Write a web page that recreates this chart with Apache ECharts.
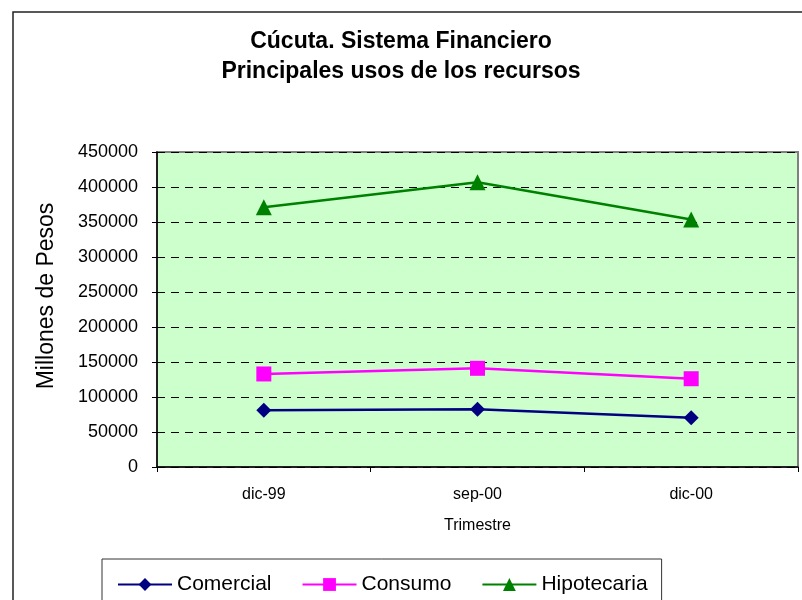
<!DOCTYPE html>
<html>
<head>
<meta charset="utf-8">
<script src="https://cdn.jsdelivr.net/npm/echarts@6/dist/echarts.min.js"></script>
<style>
  html, body { margin: 0; padding: 0; background: #fff; }
  #chart { width: 802px; height: 600px; }
</style>
</head>
<body>
<div id="chart"></div>
<script>
  // datos
  var trimestres = ['dic-99', 'sep-00', 'dic-00'];
  var comercial = [81000, 82400, 70400];
  var consumo = [132900, 141000, 126100];
  var hipotecaria = [371000, 406700, 353500];

  var chart = echarts.init(document.getElementById('chart'));
  var fuente = 'Liberation Sans, Arial, sans-serif';

  var option = {
    animation: false,
    textStyle: { fontFamily: fuente },
    title: {
      text: 'Cúcuta. Sistema Financiero\nPrincipales usos de los recursos',
      left: 'center',
      top: 22,
      textStyle: {
        fontSize: 23,
        fontWeight: 'bold',
        color: '#000',
        lineHeight: 30,
        fontFamily: fuente
      }
    },
    graphic: [{
      type: 'rect',
      shape: { x: 13, y: 12, width: 900, height: 700 },
      style: { fill: 'none', stroke: '#222', lineWidth: 1.5 },
      silent: true
    }, {
      // titulo del eje Y
      type: 'text',
      x: 47,
      y: 296,
      rotation: Math.PI / 2,
      style: {
        text: 'Millones de Pesos',
        fill: '#000',
        font: '23px ' + fuente,
        align: 'center',
        verticalAlign: 'middle'
      },
      silent: true
    }],
    legend: {
      left: 102,
      top: 559,
      padding: [15, 14, 14, 15],
      itemGap: 30,
      itemWidth: 54,
      itemHeight: 16,
      borderColor: '#333',
      borderWidth: 1,
      textStyle: { fontSize: 21, color: '#000', fontFamily: fuente },
      data: ['Comercial', 'Consumo', 'Hipotecaria']
    },
    grid: {
      left: 157,
      top: 152,
      right: 4,
      bottom: 133,
      show: true,
      backgroundColor: '#CCFFCC',
      borderColor: '#808080',
      borderWidth: 2
    },
    xAxis: {
      type: 'category',
      data: trimestres,
      boundaryGap: true,
      name: 'Trimestre',
      nameLocation: 'middle',
      nameGap: 51,
      nameTextStyle: { fontSize: 16, color: '#000' },
      axisLine: { lineStyle: { color: '#000', width: 1.5 } },
      axisTick: { show: true, inside: false, length: 5, lineStyle: { color: '#000' } },
      axisLabel: { fontSize: 16, color: '#000', margin: 20 }
    },
    yAxis: {
      type: 'value',
      min: 0,
      max: 450000,
      interval: 50000,
      axisLine: { show: true, lineStyle: { color: '#000', width: 1.5 } },
      axisTick: { show: true, inside: false, length: 5, lineStyle: { color: '#000' } },
      axisLabel: {
        fontSize: 18,
        color: '#000',
        margin: 19,
        formatter: function (v) { return String(v); }
      },
      splitLine: {
        show: true,
        lineStyle: { color: '#000', type: [8, 6], width: 1 }
      }
    },
    series: [{
      name: 'Comercial',
      type: 'line',
      data: comercial,
      symbol: 'diamond',
      symbolSize: 15,
      color: '#000080',
      lineStyle: { width: 2.5, color: '#000080' },
      itemStyle: { color: '#000080' }
    }, {
      name: 'Consumo',
      type: 'line',
      data: consumo,
      symbol: 'rect',
      symbolSize: 15,
      color: '#FF00FF',
      lineStyle: { width: 2.5, color: '#FF00FF' },
      itemStyle: { color: '#FF00FF' }
    }, {
      name: 'Hipotecaria',
      type: 'line',
      data: hipotecaria,
      symbol: 'triangle',
      symbolSize: 16,
      color: '#008000',
      lineStyle: { width: 2.5, color: '#008000' },
      itemStyle: { color: '#008000' }
    }]
  };

  chart.setOption(option);
</script>
</body>
</html>
